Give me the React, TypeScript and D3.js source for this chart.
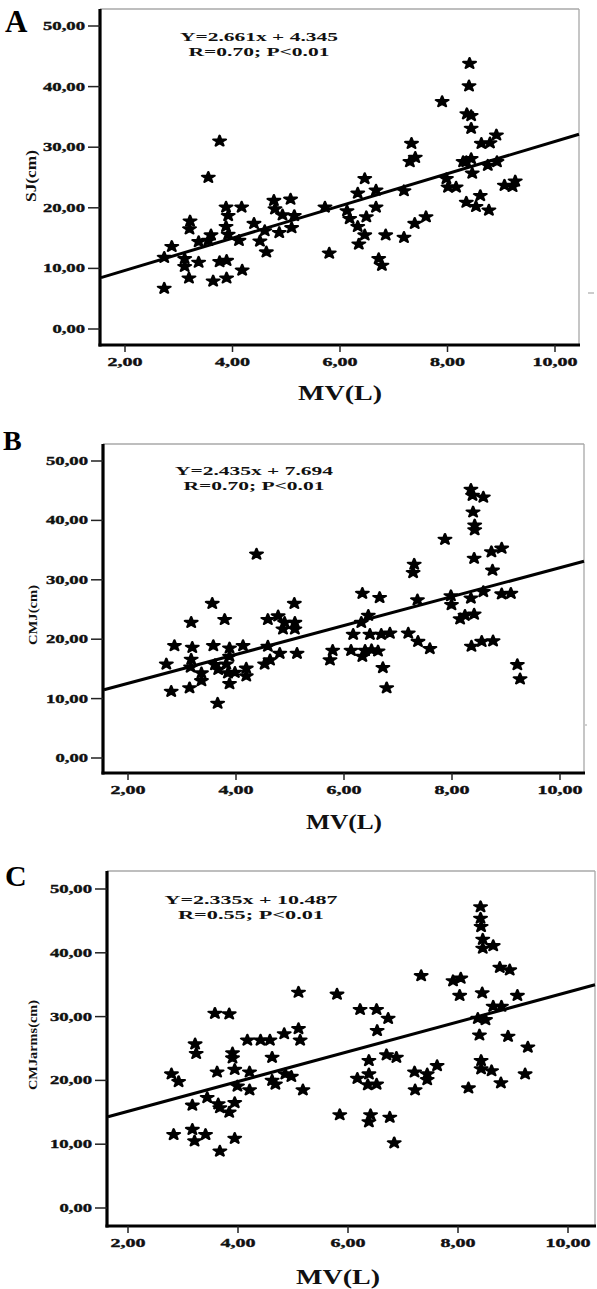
import React from "react";
import * as d3 from "d3";

// ---------- data ----------
const xTicks = [2, 4, 6, 8, 10];
const yTicks = [0, 10, 20, 30, 40, 50];
const fmt = (v: number) => v.toFixed(2).replace(".", ",");

const sjPoints: [number, number][] = [
  [2.73, 6.7], [2.73, 11.8], [2.87, 13.6], [3.11, 11.6], [3.11, 10.3], [3.19, 8.4], [3.21, 17.8], [3.2, 16.5],
  [3.37, 11.0], [3.37, 14.4], [3.55, 25.0], [3.6, 15.5], [3.55, 14.6], [3.64, 7.9], [3.76, 31.0], [3.76, 11.1],
  [3.89, 11.3], [3.89, 8.4], [3.88, 20.1], [3.92, 18.7], [3.88, 16.9], [3.92, 15.6], [4.12, 14.6], [4.17, 20.1],
  [4.18, 9.7], [4.4, 17.4], [4.51, 14.5], [4.6, 16.2], [4.63, 12.7], [4.77, 21.2], [4.79, 19.8], [4.87, 15.9],
  [4.93, 18.8], [5.08, 21.4], [5.1, 16.7], [5.15, 18.7], [5.72, 20.1], [5.8, 12.5], [6.13, 19.5], [6.18, 18.2],
  [6.33, 22.4], [6.33, 16.9], [6.35, 14.0], [6.46, 24.8], [6.49, 18.5], [6.46, 15.5], [6.67, 22.9], [6.67, 20.1],
  [6.72, 11.6], [6.78, 10.5], [6.85, 15.5], [7.19, 22.8], [7.19, 15.1], [7.33, 30.6], [7.3, 27.6], [7.4, 28.3],
  [7.39, 17.4], [7.6, 18.5], [7.9, 37.5], [7.98, 24.8], [8.01, 23.4], [8.16, 23.4], [8.41, 43.8], [8.4, 40.1],
  [8.36, 35.5], [8.44, 35.2], [8.44, 33.1], [8.29, 27.6], [8.44, 28.1], [8.46, 25.7], [8.35, 20.9], [8.53, 20.2],
  [8.61, 22.0], [8.63, 30.6], [8.79, 30.7], [8.91, 32.0], [8.75, 27.0], [8.92, 27.6], [8.77, 19.6], [9.06, 23.7],
  [9.21, 23.5], [9.26, 24.4], [8.35, 27.6],
];

const cmjPoints: [number, number][] = [
  [2.71, 15.8], [2.8, 11.2], [2.86, 18.9], [3.14, 11.8], [3.17, 22.8], [3.19, 18.6], [3.17, 16.6], [3.16, 15.3],
  [3.36, 14.3], [3.36, 13.0], [3.56, 26.0], [3.58, 18.9], [3.61, 15.7], [3.66, 9.2], [3.67, 14.9], [3.79, 23.3],
  [3.82, 15.8], [3.88, 18.5], [3.88, 17.1], [3.85, 14.3], [3.88, 12.5], [3.98, 14.4], [4.13, 18.9], [4.19, 15.1],
  [4.19, 13.8], [4.38, 34.3], [4.53, 15.8], [4.59, 18.8], [4.63, 16.5], [4.59, 23.3], [4.78, 23.9], [4.81, 17.6],
  [4.9, 22.8], [4.87, 21.7], [5.08, 26.0], [5.09, 22.8], [5.09, 21.7], [5.13, 17.6], [5.74, 16.5], [5.79, 18.1],
  [6.13, 18.1], [6.17, 20.8], [6.32, 22.8], [6.34, 27.7], [6.34, 17.1], [6.39, 18.1], [6.45, 24.0], [6.48, 20.8],
  [6.51, 18.2], [6.63, 18.0], [6.66, 27.0], [6.69, 20.8], [6.85, 21.0], [6.72, 15.2], [6.79, 11.8], [7.19, 21.0],
  [7.3, 32.6], [7.28, 31.2], [7.36, 26.6], [7.37, 19.6], [7.59, 18.4], [7.87, 36.8], [7.98, 27.3], [7.99, 25.8],
  [8.15, 23.4], [8.24, 24.0], [8.35, 45.2], [8.38, 44.2], [8.58, 43.9], [8.39, 41.4], [8.42, 39.2], [8.42, 38.4],
  [8.41, 33.6], [8.35, 26.9], [8.41, 24.2], [8.36, 18.8], [8.58, 28.0], [8.55, 19.6], [8.73, 34.7], [8.92, 35.3],
  [8.75, 31.6], [8.76, 19.7], [8.92, 27.6], [9.09, 27.7], [9.21, 15.7], [9.26, 13.3],
];

const armsPoints: [number, number][] = [
  [2.79, 21.0], [2.92, 19.8], [2.83, 11.5], [3.17, 16.1], [3.17, 12.3], [3.22, 25.7], [3.24, 24.2], [3.21, 10.5],
  [3.41, 11.5], [3.44, 17.3], [3.58, 30.5], [3.62, 21.3], [3.64, 16.3], [3.67, 15.7], [3.67, 8.9], [3.84, 30.4],
  [3.84, 15.0], [3.9, 24.3], [3.9, 23.5], [3.94, 21.7], [3.94, 16.5], [3.94, 10.9], [3.99, 19.1], [4.17, 26.3],
  [4.21, 21.3], [4.21, 18.5], [4.41, 26.3], [4.58, 26.3], [4.62, 23.6], [4.62, 20.0], [4.68, 19.4], [4.84, 27.3],
  [4.86, 21.0], [4.97, 20.6], [5.1, 33.8], [5.1, 28.1], [5.13, 26.3], [5.18, 18.5], [5.8, 33.5], [5.85, 14.6],
  [6.17, 20.3], [6.22, 31.1], [6.38, 23.1], [6.38, 21.0], [6.36, 19.3], [6.41, 14.6], [6.38, 13.5], [6.52, 31.1],
  [6.53, 27.8], [6.52, 19.4], [6.73, 29.7], [6.7, 24.0], [6.88, 23.6], [6.76, 14.2], [6.84, 10.2], [7.21, 21.3],
  [7.22, 18.5], [7.33, 36.4], [7.44, 21.0], [7.44, 20.1], [7.62, 22.3], [7.91, 35.6], [8.05, 36.0], [8.03, 33.3],
  [8.19, 18.8], [8.41, 47.2], [8.41, 45.4], [8.42, 44.1], [8.45, 42.1], [8.45, 40.7], [8.64, 41.1], [8.44, 33.7],
  [8.36, 29.7], [8.5, 29.5], [8.39, 27.1], [8.42, 23.1], [8.42, 21.8], [8.61, 21.5], [8.64, 31.6], [8.79, 31.6],
  [8.76, 37.7], [8.94, 37.3], [8.78, 19.6], [8.91, 26.9], [9.08, 33.3], [9.27, 25.2], [9.22, 21.0],
];

const fits = [
  { slope: 2.661, intercept: 4.345, eq: "Y=2.661x + 4.345", stat: "R=0.70; P<0.01" },
  { slope: 2.435, intercept: 7.694, eq: "Y=2.435x + 7.694", stat: "R=0.70; P<0.01" },
  { slope: 2.335, intercept: 10.487, eq: "Y=2.335x + 10.487", stat: "R=0.55; P<0.01" },
];
const panelLetters = ["A", "B", "C"];
const yLabels = ["SJ(cm)", "CMJ(cm)", "CMJarms(cm)"];
const xLabel = "MV(L)";

// ---------- layout ----------
const panels = [
  { pts: sjPoints, left: 100, right: 579, top: 9, bottom: 345, x2: 125, x10: 555, y0: 329, y50: 26,
    letter: [5, 32, 31], ylab: [36, 176, 15, 52], eqX: 259, eqY: 41, eqW: [158, 141], xl: [340, 400, 84] },
  { pts: cmjPoints, left: 103, right: 584, top: 444, bottom: 773, x2: 128, x10: 560, y0: 758, y50: 461,
    letter: [3, 450, 28], ylab: [37, 615, 12.5, 60], eqX: 254, eqY: 475, eqW: [158, 141], xl: [344, 829, 76] },
  { pts: armsPoints, left: 107, right: 595, top: 871, bottom: 1226, x2: 128, x10: 568, y0: 1208, y50: 889,
    letter: [5, 886, 30], ylab: [37, 1045, 12.5, 90], eqX: 251, eqY: 904, eqW: [173, 146], xl: [338, 1284, 84] },
];

const FONT = "'Liberation Serif', 'Times New Roman', serif";
const starPath = d3.symbol(d3.symbolStar, 34)() as string;

function Panel({ p, i }: { p: any; i: number }) {
  const x = d3.scaleLinear().domain([2, 10]).range([p.x2, p.x10]);
  const y = d3.scaleLinear().domain([0, 50]).range([p.y0, p.y50]);
  const fit = fits[i];
  const xa = x.invert(p.left + 1);
  const xb = x.invert(p.right);
  const line = d3.line<number>().x((v) => x(v)).y((v) => y(fit.slope * v + fit.intercept));
  const tickLen = (s: string, d: number, c: number) => s.replace(",", "").length * d + c;
  return (
    <g fontFamily={FONT} fontWeight="bold" fill="#111">
      {/* frame */}
      <line x1={p.left} x2={p.right} y1={p.top} y2={p.top} stroke="#a8a8a8" strokeWidth={1.3} />
      <line x1={p.right} x2={p.right} y1={p.top} y2={p.bottom} stroke="#a8a8a8" strokeWidth={1.3} />
      {/* axes */}
      <line x1={p.left} x2={p.left} y1={p.top} y2={p.bottom + 1.5} stroke="#000" strokeWidth={3.2} />
      <line x1={p.left - 1.5} x2={p.right + 1} y1={p.bottom} y2={p.bottom} stroke="#000" strokeWidth={3.2} />
      {yTicks.map((t) => (
        <g key={"y" + t}>
          <line x1={p.left - 12} x2={p.left} y1={y(t)} y2={y(t)} stroke="#222" strokeWidth={1.5} />
          <text x={p.left - 15} y={y(t) + 4} fontSize={11.5} textAnchor="end" stroke="#111" strokeWidth={0.35}
            textLength={tickLen(fmt(t), 9.5, 4)} lengthAdjust="spacingAndGlyphs">{fmt(t)}</text>
        </g>
      ))}
      {xTicks.map((t) => (
        <g key={"x" + t}>
          <line x1={x(t)} x2={x(t)} y1={p.bottom} y2={p.bottom + 7} stroke="#222" strokeWidth={1.5} />
          <text x={x(t)} y={p.bottom + 21} fontSize={11.5} textAnchor="middle" stroke="#111" strokeWidth={0.35}
            textLength={tickLen(fmt(t), 10, 5)} lengthAdjust="spacingAndGlyphs">{fmt(t)}</text>
        </g>
      ))}
      {/* regression line */}
      <path d={line([xa, xb]) as string} stroke="#000" strokeWidth={3} fill="none" />
      {/* points */}
      {p.pts.map((d: [number, number], k: number) => (
        <path key={k} d={starPath} transform={`translate(${x(d[0])},${y(d[1])}) scale(1.2,1)`}
          fill="#000" stroke="#000" strokeWidth={2} strokeLinejoin="round" />
      ))}
      {/* equation */}
      <text x={p.eqX} y={p.eqY} fontSize={13.5} textAnchor="middle" textLength={p.eqW[0]}
        lengthAdjust="spacingAndGlyphs">{fit.eq}</text>
      <text x={p.eqX} y={p.eqY + 15} fontSize={13.5} textAnchor="middle" textLength={p.eqW[1]}
        lengthAdjust="spacingAndGlyphs">{fit.stat}</text>
      {/* letter */}
      <text x={p.letter[0]} y={p.letter[1]} fontSize={p.letter[2]} fill="#000">{panelLetters[i]}</text>
      {/* y label */}
      <text transform={`translate(${p.ylab[0]},${p.ylab[1]}) rotate(-90)`} fontSize={p.ylab[2]}
        textAnchor="middle" textLength={p.ylab[3]} lengthAdjust="spacingAndGlyphs">{yLabels[i]}</text>
      {/* x label */}
      <text x={p.xl[0]} y={p.xl[1]} fontSize={21} textAnchor="middle" textLength={p.xl[2]}
        lengthAdjust="spacingAndGlyphs">{xLabel}</text>
    </g>
  );
}

export default function App() {
  return (
    <svg width={597} height={1289} style={{ position: "absolute", left: 0, top: 0, background: "#fff" }}>
      <rect width={597} height={1289} fill="#fff" />
      {panels.map((p, i) => <Panel key={i} p={p} i={i} />)}
      <line x1={588} x2={594} y1={293} y2={293} stroke="#999" strokeWidth={1} />
      <circle cx={586} cy={725} r={0.8} fill="#999" />
    </svg>
  );
}
